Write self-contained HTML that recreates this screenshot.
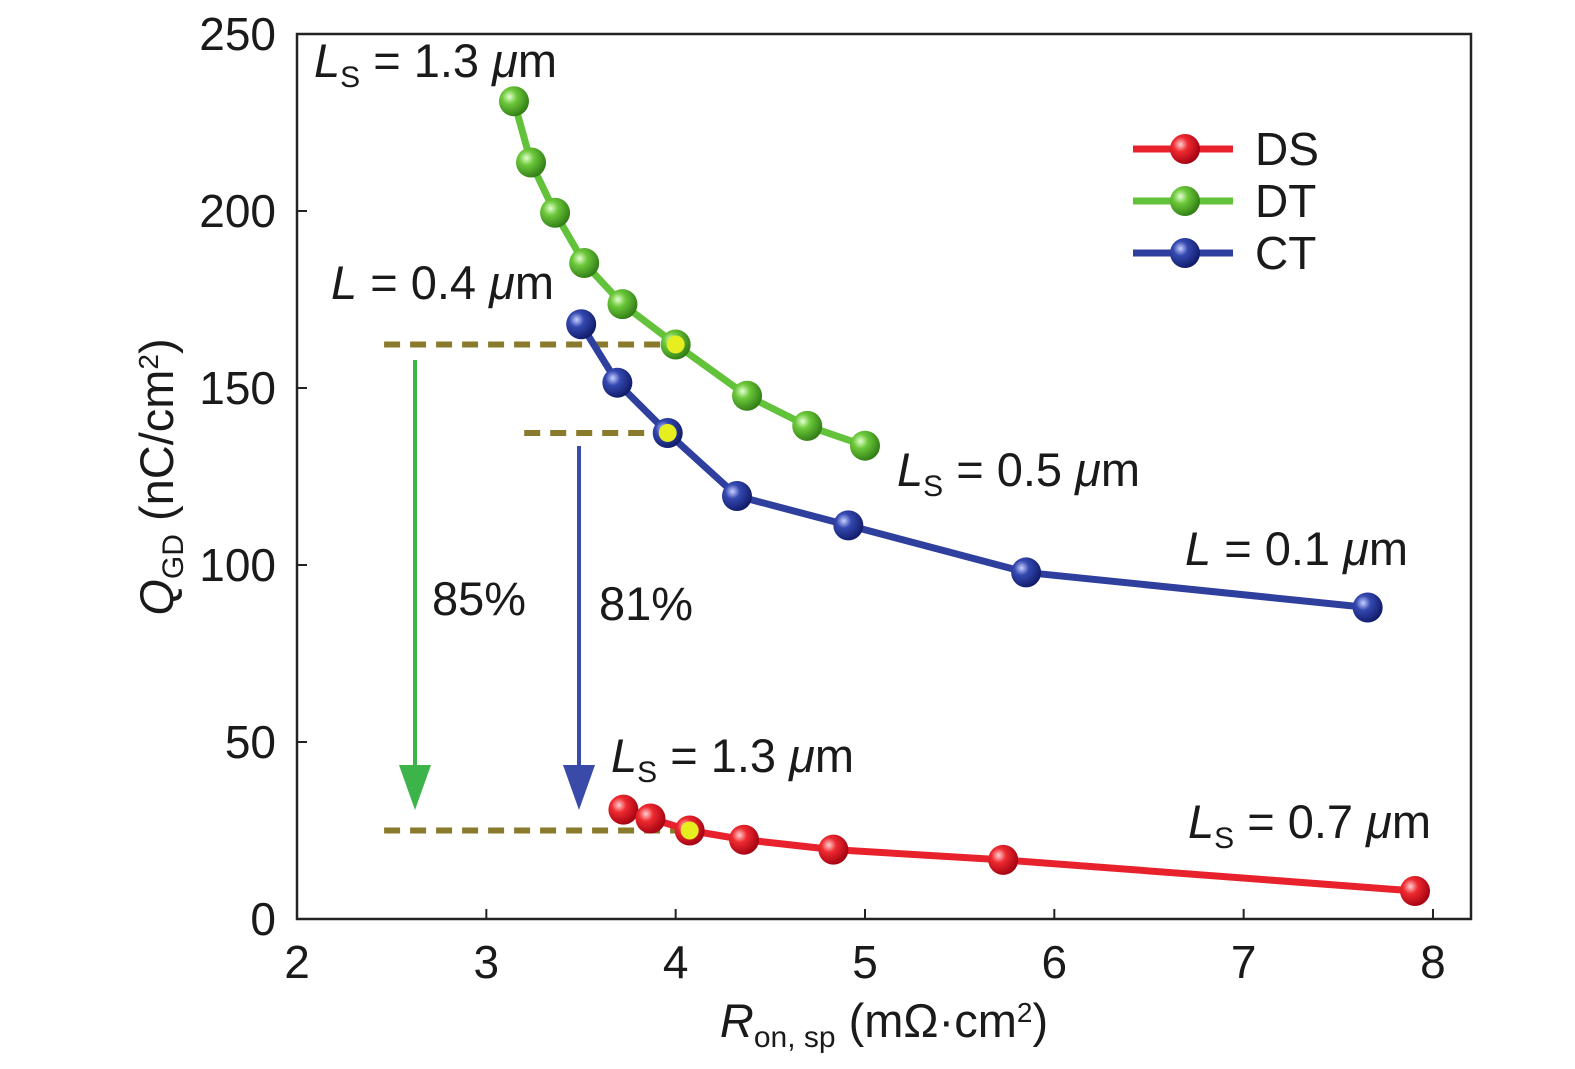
<!DOCTYPE html>
<html><head><meta charset="utf-8"><style>
html,body{margin:0;background:#fff;overflow:hidden;width:1575px;height:1069px}
svg{display:block}
svg text{font-family:"Liberation Sans",sans-serif;fill:#1a1a1a}
</style></head><body>
<svg id="chart" width="1575" height="1069" viewBox="0 0 1575 1069" style="position:absolute;left:0;top:0">
<defs>
<radialGradient id="gr" cx="0.35" cy="0.35" r="0.7"><stop offset="0" stop-color="#ffd0d0"/><stop offset="0.35" stop-color="#ee2a30"/><stop offset="1" stop-color="#a00010"/></radialGradient>
<radialGradient id="gg" cx="0.35" cy="0.35" r="0.7"><stop offset="0" stop-color="#e4ffd0"/><stop offset="0.35" stop-color="#6cc83a"/><stop offset="1" stop-color="#2e7a14"/></radialGradient>
<radialGradient id="gb" cx="0.35" cy="0.35" r="0.7"><stop offset="0" stop-color="#c8d0ff"/><stop offset="0.35" stop-color="#3448b0"/><stop offset="1" stop-color="#0f1a66"/></radialGradient>
</defs>
<g id="axes"></g>
<g id="anno"></g>
<g id="series"></g>
</svg>
<script>
const xTicks=[2,3,4,5,6,7,8];
const yTicks=[0,50,100,150,200,250];
const dtX=[3.146,3.236,3.363,3.517,3.719,4.0,4.377,4.695,5.0];
const dtY=[231,213.7,199.5,185.3,173.7,162.3,147.8,139.3,133.7];
const ctX=[3.501,3.692,3.958,4.324,4.912,5.851,7.655];
const ctY=[168,151.5,137.3,119.5,111.2,97.9,88];
const dsX=[3.724,3.867,4.074,4.361,4.833,5.73,7.905];
const dsY=[30.9,28.4,25,22.4,19.6,16.7,7.9];
const NS='http://www.w3.org/2000/svg';
const L=297,R=1471,T=34,B=919;
const sx=v=>297+(v-2)*189.33;
const sy=v=>919-v*3.54;
function mk(tag,attrs,parent,text){const e=document.createElementNS(NS,tag);for(const k in attrs)e.setAttribute(k,attrs[k]);if(text!==undefined)e.textContent=text;parent.appendChild(e);return e;}
const ax=document.getElementById('axes');
let fr=mk('rect',{x:L,y:T,width:R-L,height:B-T,fill:'none',stroke:'#222','stroke-width':2.5},ax);


xTicks.forEach(v=>{
 let t=mk('line',{x1:sx(v),x2:sx(v),y1:B,y2:B-10,stroke:'#222','stroke-width':2},ax);
 
 
 let l=mk('text',{x:sx(v),y:978,'font-size':46,'text-anchor':'middle'},ax,v);
 
 
});
yTicks.forEach(v=>{
 let t=mk('line',{x1:L,x2:L+10,y1:sy(v),y2:sy(v),stroke:'#222','stroke-width':2},ax);
 
 
 let l=mk('text',{x:276,y:sy(v)+16,'font-size':46,'text-anchor':'end'},ax,v);
 
 
});
const an=document.getElementById('anno');
[[2.46,4.0,162.3],[3.2,3.958,137.3],[2.46,4.074,25]].forEach(d=>{
 let g=mk('line',{x1:sx(d[0]),x2:sx(d[1]),y1:sy(d[2]),y2:sy(d[2]),stroke:'#8a7a2c','stroke-width':6,'stroke-dasharray':'16,10'},an);
 
 
});
function arrow(x,y1,y2,c,name){
 let g=mk('g',{},an);
 
 
 mk('line',{x1:x,x2:x,y1:y1,y2:y2-35,stroke:c,'stroke-width':4},g);
 mk('polygon',{points:`${x-16},${y2-45} ${x+16},${y2-45} ${x},${y2}`,fill:c},g);
}
arrow(415,360,810,'#3cb44a','arrow-85');
arrow(579,446,810,'#3a4aa8','arrow-81');
function series(xs,ys,color,grad,name,hl){
 const g=mk('g',{},document.getElementById('series'));
 
 
 let p=mk('polyline',{points:xs.map((x,i)=>sx(x)+','+sy(ys[i])).join(' '),fill:'none',stroke:color,'stroke-width':7,'stroke-linejoin':'round'},g);
 
 
 xs.forEach((x,i)=>{
  let c=mk('circle',{cx:sx(x),cy:sy(ys[i]),r:15,fill:'url(#'+grad+')'},g);
  
  
  if(i===hl){let h=mk('circle',{cx:sx(x),cy:sy(ys[i]),r:9,fill:'#e6ee20'},g);
   
   }
 });
}
series(dtX,dtY,'#62c23a','gg','dt',5);
series(ctX,ctY,'#2e3f9e','gb','ct',2);
series(dsX,dsY,'#e8222c','gr','ds',2);
</script>
<svg width="1575" height="1069" style="position:absolute;left:0;top:0">
<g font-family="Liberation Sans, sans-serif" fill="#1a1a1a" font-size="47">
<text x="314" y="77"><tspan font-style="italic">L</tspan><tspan font-size="30" dy="10">S</tspan><tspan dy="-10"> = 1.3 </tspan><tspan font-style="italic">μ</tspan>m</text>
<text x="331" y="299"><tspan font-style="italic">L</tspan> = 0.4 <tspan font-style="italic">μ</tspan>m</text>
<text x="897" y="486"><tspan font-style="italic">L</tspan><tspan font-size="30" dy="10">S</tspan><tspan dy="-10"> = 0.5 </tspan><tspan font-style="italic">μ</tspan>m</text>
<text x="1185" y="565"><tspan font-style="italic">L</tspan> = 0.1 <tspan font-style="italic">μ</tspan>m</text>
<text x="611" y="772"><tspan font-style="italic">L</tspan><tspan font-size="30" dy="10">S</tspan><tspan dy="-10"> = 1.3 </tspan><tspan font-style="italic">μ</tspan>m</text>
<text x="1188" y="838"><tspan font-style="italic">L</tspan><tspan font-size="30" dy="10">S</tspan><tspan dy="-10"> = 0.7 </tspan><tspan font-style="italic">μ</tspan>m</text>
<text x="432" y="615">85%</text>
<text x="599" y="620">81%</text>
<text x="884" y="1037" text-anchor="middle"><tspan font-style="italic">R</tspan><tspan font-size="30" dy="10">on, sp</tspan><tspan dy="-10"> (mΩ·cm</tspan><tspan font-size="28" dy="-15">2</tspan><tspan dy="15">)</tspan></text>
<text transform="translate(173,477) rotate(-90)" text-anchor="middle"><tspan font-style="italic">Q</tspan><tspan font-size="30" dy="10">GD</tspan><tspan dy="-10"> (nC/cm</tspan><tspan font-size="28" dy="-15">2</tspan><tspan dy="15">)</tspan></text>
</g>
<g font-family="Liberation Sans, sans-serif" font-size="46" fill="#1a1a1a">
<line x1="1133" x2="1233" y1="149" y2="149" stroke="#e8222c" stroke-width="7"/><circle cx="1185" cy="149" r="15" fill="url(#gr)"/><text x="1255" y="165">DS</text>
<line x1="1133" x2="1233" y1="201" y2="201" stroke="#62c23a" stroke-width="7"/><circle cx="1185" cy="201" r="15" fill="url(#gg)"/><text x="1255" y="217">DT</text>
<line x1="1133" x2="1233" y1="253" y2="253" stroke="#2e3f9e" stroke-width="7"/><circle cx="1185" cy="253" r="15" fill="url(#gb)"/><text x="1255" y="269">CT</text>
</g>
</svg>
</body></html>
